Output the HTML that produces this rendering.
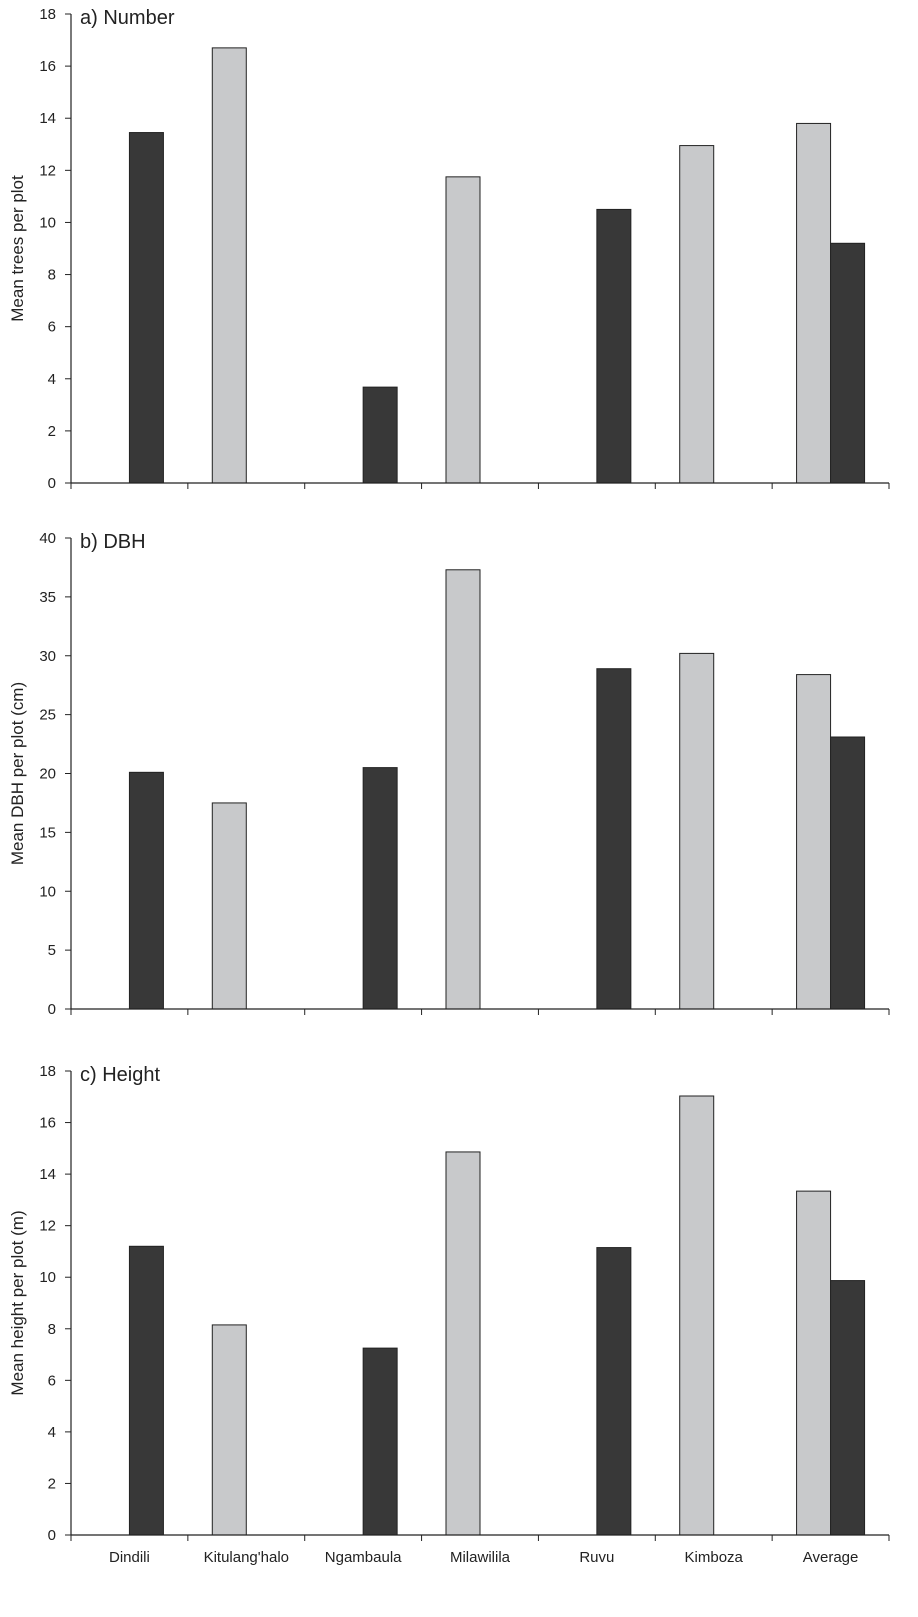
<!DOCTYPE html>
<html><head><meta charset="utf-8"><style>
body{margin:0;background:#fff}
svg{display:block;font-family:"Liberation Sans",Arial,sans-serif}
</style></head><body>
<svg id="chart" width="918" height="1617"></svg>
<script>
const categories=["Dindili","Kitulang'halo","Ngambaula","Milawilila","Ruvu","Kimboza","Average"];
const numberLight=[0,16.7,0,11.75,0,12.95,13.8];
const numberDark=[13.45,0,3.68,0,10.5,0,9.2];
const dbhLight=[0,17.5,0,37.3,0,30.2,28.4];
const dbhDark=[20.1,0,20.5,0,28.9,0,23.1];
const heightLight=[0,8.15,0,14.86,0,17.03,13.34];
const heightDark=[11.2,0,7.25,0,11.15,0,9.87];
const numberTicks=[0,2,4,6,8,10,12,14,16,18];
const dbhTicks=[0,5,10,15,20,25,30,35,40];
const heightTicks=[0,2,4,6,8,10,12,14,16,18];

const NS="http://www.w3.org/2000/svg";
const svg=document.getElementById('chart');
function mk(t,a,p){const e=document.createElementNS(NS,t);for(const k in a)e.setAttribute(k,a[k]);(p||svg).appendChild(e);return e;}
const X0=71,X1=889,cw=(X1-X0)/categories.length,bw=34;
function xC(i){return X0+cw*(i+0.5);}
const panels=[
 {name:'number',title:'a) Number',ytitle:'Mean trees per plot',top:14,bot:483,max:18,ticks:numberTicks,light:numberLight,dark:numberDark},
 {name:'dbh',title:'b) DBH',ytitle:'Mean DBH  per plot (cm)',top:538,bot:1009,max:40,ticks:dbhTicks,light:dbhLight,dark:dbhDark},
 {name:'height',title:'c) Height',ytitle:'Mean height  per plot (m)',top:1071,bot:1535,max:18,ticks:heightTicks,light:heightLight,dark:heightDark}
];
panels.forEach(p=>{
 const g=mk('g',{});
 
 
 const y=v=>p.bot-(v/p.max)*(p.bot-p.top);
 p.ticks.forEach(t=>{
  const l=mk('line',{x1:65,x2:X0,y1:y(t),y2:y(t),stroke:'#222','stroke-width':1},g);
  
  
  const tx=mk('text',{x:56,y:y(t)+5,'text-anchor':'end','font-size':15,fill:'#222'},g);
  tx.textContent=t;
  
  
 });
 for(let i=0;i<=categories.length;i++){
  const l=mk('line',{x1:X0+cw*i,x2:X0+cw*i,y1:p.bot,y2:p.bot+6,stroke:'#222','stroke-width':1},g);
  
  
 }
 categories.forEach((c,i)=>{
  if(p.light[i]>0){
   const r=mk('rect',{x:xC(i)-bw,y:y(p.light[i]),width:bw,height:p.bot-y(p.light[i]),fill:'#c8c9cb',stroke:'#222','stroke-width':1},g);
   
   
  }
  if(p.dark[i]>0){
   const r=mk('rect',{x:xC(i),y:y(p.dark[i]),width:bw,height:p.bot-y(p.dark[i]),fill:'#383838',stroke:'#222','stroke-width':1},g);
   
   
  }
 });
 const ya=mk('line',{x1:X0,x2:X0,y1:p.top,y2:p.bot,stroke:'#222','stroke-width':1.2},g);
 
 
 const xa=mk('line',{x1:X0,x2:X1,y1:p.bot,y2:p.bot,stroke:'#222','stroke-width':1.2},g);
 
 
 const tt=mk('text',{x:80,y:p.top+10,'font-size':20,fill:'#222'},g);
 tt.textContent=p.title;
 
 
 const cy=(p.top+p.bot)/2;
 const yt=mk('text',{x:23,y:cy,'font-size':17,fill:'#222','text-anchor':'middle',transform:'rotate(-90 23 '+cy+')'},g);
 yt.textContent=p.ytitle;
 
 
});
categories.forEach((c,i)=>{
 const t=mk('text',{x:xC(i),y:1562,'text-anchor':'middle','font-size':15,fill:'#222'});
 t.textContent=c;
 
 
});
</script>
</body></html>
